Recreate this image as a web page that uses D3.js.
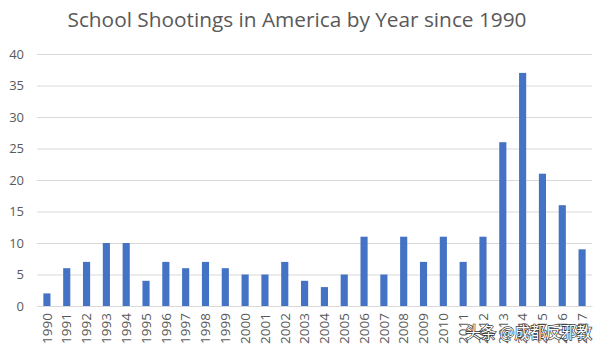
<!DOCTYPE html>
<html><head><meta charset="utf-8">
<script src="https://cdn.jsdelivr.net/npm/d3@7"></script>
<style>body{margin:0;background:#fff}svg{display:block}</style>
</head><body>
<script>
const years = ["1990","1991","1992","1993","1994","1995","1996","1997","1998","1999","2000","2001","2002","2003","2004","2005","2006","2007","2008","2009","2010","2011","2012","2013","2014","2015","2016","2017"];
const shootings = [2,6,7,10,10,4,7,6,7,6,5,5,7,4,3,5,11,5,11,7,11,7,11,26,37,21,16,9];
const yTicks = [0,5,10,15,20,25,30,35,40];
const title = "School Shootings in America by Year since 1990";
const watermark = "头条 @成都反邪教";

const W=600,H=352;
const svg=d3.select("body").append("svg").attr("width",W).attr("height",H);
const x=d3.scaleBand().domain(years).range([37,592]).paddingInner(0.64).paddingOuter(0.32);
const y=d3.scaleLinear().domain([0,40]).range([306,54]);
const font="'Open Sans','Noto Sans',sans-serif";

svg.append("text").attr("x",297).attr("y",27).attr("text-anchor","middle")
  .attr("font-family",font).attr("font-size",20.8).attr("fill","#595959").text(title);

const ya=svg.append("g").attr("transform","translate(37,0)")
  .call(d3.axisLeft(y).tickValues(yTicks).tickSize(-555).tickPadding(13));
ya.select(".domain").remove();
ya.selectAll(".tick line").attr("stroke","#d9d9d9").attr("stroke-width",1);
ya.selectAll(".tick text").attr("font-family",font).attr("font-size",13).attr("fill","#595959");

svg.append("g").selectAll("rect").data(shootings).join("rect")
  .attr("x",(d,i)=>x(years[i])).attr("width",x.bandwidth())
  .attr("y",d=>y(d)).attr("height",d=>y(0)-y(d)).attr("fill","#4472c4");

const xa=svg.append("g").attr("transform","translate(0,306)")
  .call(d3.axisBottom(x).tickSize(0).tickPadding(0));
xa.select(".domain").attr("stroke","#d9d9d9");
xa.selectAll(".tick text").attr("font-family",font).attr("font-size",13.5).attr("fill","#595959")
  .attr("transform","rotate(-90)").attr("text-anchor","end").attr("dx","-7").attr("dy","0.35em").attr("x",0).attr("y",0);

svg.append("text").attr("x",592).attr("y",338).attr("text-anchor","end")
  .attr("font-family","'Noto Sans CJK SC',sans-serif").attr("font-size",15.5)
  .attr("fill","#fff").attr("stroke","#333").attr("stroke-width",1.3).attr("paint-order","stroke")
  .text(watermark);
</script>
</body></html>
